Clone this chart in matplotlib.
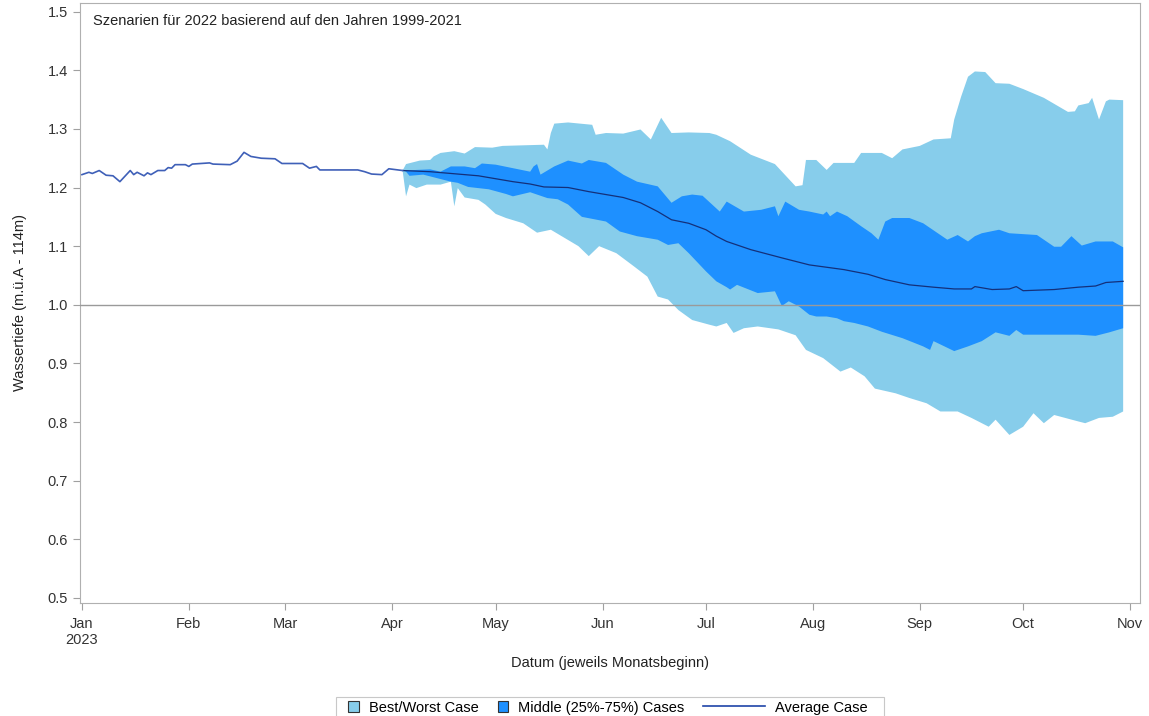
import numpy as np
import matplotlib
matplotlib.use("Agg")
import matplotlib.pyplot as plt
import matplotlib.dates as mdates
from matplotlib.patches import Patch, Rectangle
from matplotlib.lines import Line2D

plt.rcParams['font.family'] = ['Liberation Sans', 'DejaVu Sans']

START = np.datetime64('2023-01-01')

# measured level Jan - Apr (days counted from Jan 1)
hist_days = [0, 2, 3, 5, 7, 9, 11, 14, 15, 16, 18, 19, 20, 22, 24, 25, 26, 27, 30, 31,
             32, 37, 38, 43, 45, 47, 49, 52, 56, 58, 64, 66, 68, 69, 80, 82, 84, 87, 89, 93]
hist_vals = [1.222, 1.226, 1.224, 1.229, 1.221, 1.220, 1.210, 1.229, 1.222, 1.226,
             1.220, 1.225, 1.222, 1.229, 1.229, 1.234, 1.233, 1.239, 1.239, 1.236,
             1.240, 1.242, 1.240, 1.239, 1.245, 1.260, 1.253, 1.250, 1.249, 1.241,
             1.241, 1.233, 1.236, 1.230, 1.230, 1.227, 1.223, 1.222, 1.232, 1.229]

# scenario envelopes
best_days = [93, 94, 98, 101, 102, 104, 108, 111, 114, 119, 122, 128, 134, 135, 136, 137,
             141, 148, 149, 152, 157, 162, 165, 168, 171, 176, 182, 184, 188, 194, 201,
             207, 209, 210, 213, 216, 218, 224, 226, 232, 235, 238, 243, 247, 252, 253,
             255, 257, 259, 262, 265, 269, 273, 279, 286, 288, 289, 292, 293, 295, 297,
             298, 302]
best_vals = [1.229, 1.240, 1.246, 1.247, 1.253, 1.259, 1.262, 1.258, 1.269, 1.268, 1.271,
             1.272, 1.273, 1.265, 1.293, 1.309, 1.311, 1.307, 1.290, 1.293, 1.292, 1.299,
             1.282, 1.319, 1.293, 1.294, 1.293, 1.290, 1.279, 1.256, 1.240, 1.202, 1.204,
             1.247, 1.247, 1.230, 1.242, 1.242, 1.259, 1.259, 1.250, 1.265, 1.271, 1.282,
             1.284, 1.316, 1.355, 1.389, 1.398, 1.397, 1.378, 1.377, 1.368, 1.353, 1.329,
             1.330, 1.340, 1.344, 1.353, 1.316, 1.347, 1.350, 1.349]

p75_days = [93, 94, 97, 101, 104, 107, 111, 114, 116, 120, 125, 130, 131, 132, 133, 137,
            141, 145, 147, 152, 157, 161, 167, 171, 174, 177, 180, 185, 187, 192, 197,
            201, 202, 204, 208, 211, 215, 216, 217, 219, 222, 226, 229, 231, 233, 235,
            240, 244, 251, 254, 257, 259, 261, 266, 269, 277, 282, 284, 287, 290, 294,
            299, 302]
p75_vals = [1.229, 1.229, 1.230, 1.231, 1.227, 1.236, 1.236, 1.233, 1.241, 1.239, 1.233,
            1.227, 1.236, 1.240, 1.222, 1.236, 1.246, 1.241, 1.247, 1.242, 1.222, 1.210,
            1.202, 1.174, 1.185, 1.188, 1.186, 1.159, 1.176, 1.159, 1.162, 1.168, 1.151,
            1.176, 1.162, 1.159, 1.154, 1.159, 1.151, 1.159, 1.151, 1.134, 1.122, 1.111,
            1.142, 1.148, 1.148, 1.139, 1.111, 1.119, 1.108, 1.117, 1.122, 1.128, 1.122,
            1.119, 1.099, 1.099, 1.117, 1.101, 1.108, 1.108, 1.098]

avg_days = [93, 101, 111, 115, 120, 125, 130, 134, 141, 147, 152, 157, 162, 167, 171, 176,
            181, 184, 187, 194, 203, 211, 216, 221, 228, 233, 240, 247, 253, 258, 259,
            264, 269, 271, 273, 282, 289, 294, 297, 302]
avg_vals = [1.229, 1.227, 1.222, 1.220, 1.215, 1.210, 1.206, 1.201, 1.200, 1.193, 1.188,
            1.183, 1.174, 1.159, 1.145, 1.139, 1.128, 1.117, 1.108, 1.094, 1.080, 1.068,
            1.064, 1.060, 1.052, 1.043, 1.034, 1.030, 1.027, 1.027, 1.031, 1.026, 1.027,
            1.031, 1.024, 1.026, 1.030, 1.032, 1.038, 1.040]

p25_days = [93, 94, 95, 99, 103, 107, 109, 112, 115, 118, 123, 125, 130, 135, 138, 141,
            145, 152, 156, 161, 167, 170, 173, 176, 181, 184, 187, 188, 190, 196, 201,
            203, 205, 208, 211, 213, 216, 219, 221, 224, 226, 228, 232, 238, 244, 246,
            247, 253, 257, 261, 265, 269, 271, 273, 279, 289, 294, 298, 302]
p25_vals = [1.229, 1.227, 1.220, 1.222, 1.216, 1.210, 1.208, 1.201, 1.199, 1.197, 1.189,
            1.185, 1.192, 1.182, 1.180, 1.171, 1.150, 1.142, 1.125, 1.117, 1.111, 1.102,
            1.105, 1.088, 1.057, 1.040, 1.030, 1.026, 1.034, 1.020, 1.023, 0.998, 1.006,
            0.997, 0.983, 0.980, 0.980, 0.977, 0.972, 0.969, 0.966, 0.963, 0.954, 0.943,
            0.929, 0.923, 0.938, 0.921, 0.929, 0.938, 0.953, 0.947, 0.957, 0.949, 0.949,
            0.949, 0.947, 0.953, 0.960]

worst_days = [93, 94, 95, 97, 100, 104, 107, 108, 109, 111, 115, 117, 120, 123, 128, 132,
              136, 140, 144, 147, 150, 155, 160, 164, 167, 170, 173, 177, 182, 184, 187,
              189, 192, 196, 202, 207, 210, 215, 220, 223, 227, 230, 236, 240, 245, 249,
              254, 258, 263, 265, 269, 273, 276, 279, 282, 289, 291, 295, 299, 302]
worst_vals = [1.229, 1.185, 1.205, 1.199, 1.205, 1.205, 1.210, 1.168, 1.199, 1.183, 1.179,
              1.171, 1.155, 1.148, 1.139, 1.123, 1.128, 1.114, 1.100, 1.083, 1.100, 1.088,
              1.066, 1.048, 1.014, 1.009, 0.991, 0.974, 0.966, 0.963, 0.969, 0.952, 0.960,
              0.963, 0.958, 0.948, 0.923, 0.909, 0.886, 0.893, 0.878, 0.857, 0.849, 0.841,
              0.832, 0.818, 0.818, 0.807, 0.792, 0.804, 0.778, 0.792, 0.815, 0.798, 0.812,
              0.801, 0.798, 0.807, 0.809, 0.818]

month_labels = ['Jan\n2023', 'Feb', 'Mar', 'Apr', 'May', 'Jun', 'Jul', 'Aug', 'Sep', 'Oct', 'Nov']
legend_labels = ['Best/Worst Case', 'Middle (25%-75%) Cases', 'Average Case\u00a0\u00a0\u00a0']
title = 'Szenarien für 2022 basierend auf den Jahren 1999-2021'

LIGHT = '#87CDEB'
DARK = '#1E90FF'
AVG = '#14307a'
HIST = '#3f60b8'
FS = 10.5


def to_num(days):
    return mdates.date2num(START + np.asarray(days).astype('timedelta64[D]'))


def envelope(ax, up_d, up_v, lo_d, lo_v, color):
    x = np.concatenate([to_num(up_d), to_num(lo_d)[::-1]])
    y = np.concatenate([up_v, lo_v[::-1]])
    ax.fill(x, y, color=color, lw=0)


fig = plt.figure(figsize=(11.49, 7.16), dpi=100)
ax = fig.add_axes([0.0696, 0.158, 0.9226, 0.838])

envelope(ax, best_days, best_vals, worst_days, worst_vals, LIGHT)
envelope(ax, p75_days, p75_vals, p25_days, p25_vals, DARK)
ax.plot(to_num(avg_days), avg_vals, color=AVG, lw=0.9, zorder=3)
ax.plot(to_num(hist_days), hist_vals, color=HIST, lw=1.2, zorder=3)
ax.axhline(1.0, color='#9a9a9a', lw=1.0, zorder=4)

month_ticks = mdates.date2num(np.arange('2023-01', '2023-12', dtype='datetime64[M]').astype('datetime64[D]'))
ax.set_xticks(month_ticks)
ax.set_xticklabels(month_labels)
ax.set_xlim(to_num([0])[0] - 0.58, to_num([0])[0] + 306.9)
ax.set_ylim(0.4915, 1.515)
ax.set_yticks(np.arange(0.5, 1.51, 0.1))
ax.yaxis.set_major_formatter(plt.FormatStrFormatter('%.1f'))

for s in ax.spines.values():
    s.set_color('#b0b0b0')
ax.tick_params(axis='both', direction='out', length=5, color='#a0a0a0',
               labelsize=FS, labelcolor='#333333')
ax.tick_params(axis='x', pad=5)

ax.set_xlabel('Datum (jeweils Monatsbeginn)', fontsize=FS, color='#222222')
ax.set_ylabel('Wassertiefe (m.ü.A - 114m)', fontsize=FS, color='#222222')
ax.xaxis.set_label_coords(0.5, -0.088)
ax.yaxis.set_label_coords(-0.050, 0.5)

ax.text(0.0123, 0.981, title, transform=ax.transAxes, ha='left', va='top',
        fontsize=FS, color='#222222')

handles = [Patch(facecolor=LIGHT, edgecolor='#333333', linewidth=0.8),
           Patch(facecolor=DARK, edgecolor='#333333', linewidth=0.8),
           Line2D([], [], color='#1f44a8', lw=1.2)]
leg = fig.legend(handles, legend_labels, loc='center', bbox_to_anchor=(0.531, 0.0118), ncol=3,
                 frameon=True, fancybox=False, edgecolor='#c8c8c8', framealpha=1,
                 fontsize=FS, handlelength=0.72, handleheight=0.72, handletextpad=0.7,
                 columnspacing=1.3, borderpad=0.25)
leg.get_frame().set_linewidth(0.8)

# squares get some room on the left, the line sample is longer than the squares
try:
    cols = leg._legend_handle_box.get_children()
    first = cols[0].get_children()[0].get_children()[0]
    shift = 6.0
    first.width += shift
    for p in first.get_children():
        if isinstance(p, Rectangle):
            p.set_x(p.get_x() + shift)
    last = cols[-1].get_children()[0].get_children()[0]
    last.width = 44.5
    for ln in last.get_children():
        if isinstance(ln, Line2D):
            y0 = np.atleast_1d(ln.get_ydata())[0]
            ln.set_data([0, last.width], [y0, y0])
except Exception:
    pass

fig.savefig('out.png', dpi=100)
